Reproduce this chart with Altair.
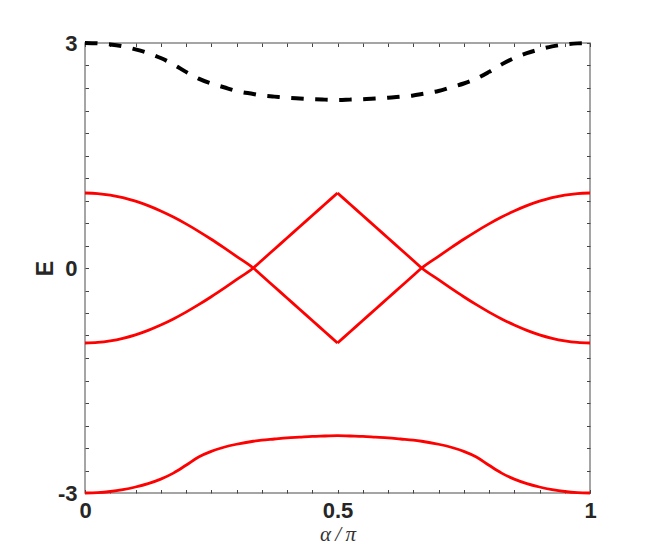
import altair as alt
import pandas as pd

# alpha / pi sample points
alpha = [0, 0.025, 0.05, 0.075, 0.1, 0.125, 0.15, 0.175, 0.2, 0.225, 0.25, 0.275, 0.3, 0.3333,
         0.35, 0.375, 0.4, 0.425, 0.45, 0.475, 0.5, 0.525, 0.55, 0.575, 0.6, 0.625, 0.65, 0.6667,
         0.7, 0.725, 0.75, 0.775, 0.8, 0.825, 0.85, 0.875, 0.9, 0.925, 0.95, 0.975, 1]

# middle band starting at +1
band_a = [1.000, 0.993, 0.972, 0.938, 0.891, 0.831, 0.760, 0.679, 0.588, 0.489, 0.383, 0.271, 0.156, 0.00,
          -0.10, -0.25, -0.40, -0.55, -0.70, -0.85, -1.00, -0.85, -0.70, -0.55, -0.40, -0.25, -0.10, 0.00,
          0.156, 0.271, 0.383, 0.489, 0.588, 0.679, 0.760, 0.831, 0.891, 0.938, 0.972, 0.993, 1.000]

# middle band starting at -1
band_b = [-1.000, -0.993, -0.972, -0.938, -0.891, -0.831, -0.760, -0.679, -0.588, -0.489, -0.383, -0.271, -0.156, 0.00,
          0.10, 0.25, 0.40, 0.55, 0.70, 0.85, 1.00, 0.85, 0.70, 0.55, 0.40, 0.25, 0.10, 0.00,
          -0.156, -0.271, -0.383, -0.489, -0.588, -0.679, -0.760, -0.831, -0.891, -0.938, -0.972, -0.993, -1.000]

# lowest band
band_low = [-3.000, -2.995, -2.980, -2.955, -2.920, -2.875, -2.815, -2.735, -2.630, -2.520, -2.445, -2.390, -2.350, -2.31,
            -2.295, -2.28, -2.265, -2.255, -2.245, -2.24, -2.235, -2.24, -2.245, -2.255, -2.265, -2.28, -2.295, -2.31,
            -2.350, -2.390, -2.445, -2.520, -2.630, -2.735, -2.815, -2.875, -2.920, -2.955, -2.980, -2.995, -3.000]

# highest band (dashed)
band_high = [3.000, 2.995, 2.980, 2.955, 2.915, 2.865, 2.800, 2.715, 2.615, 2.525, 2.460, 2.410, 2.360, 2.32,
             2.30, 2.285, 2.27, 2.26, 2.25, 2.245, 2.24, 2.245, 2.25, 2.26, 2.27, 2.285, 2.30, 2.32,
             2.360, 2.410, 2.460, 2.525, 2.615, 2.715, 2.800, 2.865, 2.915, 2.955, 2.980, 2.995, 3.000]

x_ticks = [0, 0.05, 0.1, 0.15, 0.2, 0.25, 0.3, 0.35, 0.4, 0.45, 0.5,
           0.55, 0.6, 0.65, 0.7, 0.75, 0.8, 0.85, 0.9, 0.95, 1]
y_ticks = [-3, -2.7, -2.4, -2.1, -1.8, -1.5, -1.2, -0.9, -0.6, -0.3, 0,
           0.3, 0.6, 0.9, 1.2, 1.5, 1.8, 2.1, 2.4, 2.7, 3]
x_labels = [0, 0.5, 1]
y_labels = [-3, 0, 3]


def pieces(name, values, split_mid):
    rows = []
    for a, e in zip(alpha, values):
        if split_mid:
            if a <= 0.5:
                rows.append({"alpha": a, "E": e, "seg": name + "1"})
            if a >= 0.5:
                rows.append({"alpha": a, "E": e, "seg": name + "2"})
        else:
            rows.append({"alpha": a, "E": e, "seg": name})
    return rows


red_df = pd.DataFrame(
    pieces("a", band_a, True) + pieces("b", band_b, True) + pieces("low", band_low, False)
)
black_df = pd.DataFrame(pieces("high", band_high, False))

TICK = 3.5
TICK_COLOR = "#444444"
LABEL_FONT = "Liberation Sans"

x_scale = alt.Scale(domain=[0, 1], nice=False, zero=False)
y_scale = alt.Scale(domain=[-3, 3], nice=False, zero=False)


def lab_expr(vals):
    return "indexof(" + str(vals) + ", datum.value) >= 0 ? '' + datum.value : ''"


x_axis_main = alt.Axis(
    orient="bottom", values=x_ticks, labelExpr=lab_expr(x_labels),
    offset=-TICK, tickSize=TICK, tickColor=TICK_COLOR, domain=False, grid=False,
    labelPadding=7, labelFont=LABEL_FONT, labelFontSize=22, labelFontWeight="bold",
    labelColor="#262626", labelOverlap=False, labelFlush=False, labelBound=False,
    title="α\u2009/\u2009π", titleFont="Liberation Serif", titleFontStyle="italic",
    titleFontWeight="normal", titleFontSize=21, titleColor="#333333", titlePadding=2,
)
y_axis_main = alt.Axis(
    orient="left", values=y_ticks, labelExpr=lab_expr(y_labels),
    offset=-TICK, tickSize=TICK, tickColor=TICK_COLOR, domain=False, grid=False,
    labelPadding=8, labelFont=LABEL_FONT, labelFontSize=22, labelFontWeight="bold",
    labelColor="#262626", labelOverlap=False, labelFlush=False, labelBound=False,
    title="E", titleFont=LABEL_FONT, titleFontSize=23, titleFontWeight="bold",
    titleColor="#262626", titlePadding=0,
)
x_axis_top = alt.Axis(
    orient="top", values=x_ticks, labels=False, offset=-TICK, tickSize=TICK,
    tickColor=TICK_COLOR, domain=False, grid=False, title=None,
)
y_axis_right = alt.Axis(
    orient="right", values=y_ticks, labels=False, offset=-TICK, tickSize=TICK,
    tickColor=TICK_COLOR, domain=False, grid=False, title=None,
)

red = alt.Chart(red_df).mark_line(
    color="#ff0000", strokeWidth=2.8, interpolate="monotone"
).encode(
    x=alt.X("alpha:Q", scale=x_scale, axis=x_axis_main),
    y=alt.Y("E:Q", scale=y_scale, axis=y_axis_main),
    detail="seg:N",
    order="alpha:Q",
)

black = alt.Chart(black_df).mark_line(
    color="#000000", strokeWidth=4, strokeDash=[12.5, 11.5], strokeCap="butt",
    interpolate="monotone",
).encode(
    x=alt.X("alpha:Q", scale=x_scale, axis=x_axis_top),
    y=alt.Y("E:Q", scale=y_scale, axis=y_axis_right),
    order="alpha:Q",
)

chart = alt.layer(red, black).resolve_axis(
    x="independent", y="independent"
).properties(
    width=505, height=450,
    autosize=alt.AutoSizeParams(type="none"),
    padding={"left": 77, "top": 35, "right": 40, "bottom": 58},
).configure(
    background="white"
).configure_view(
    stroke="#888888", strokeWidth=1.5
)

chart.save("out.html", embed_options={"renderer": "svg", "actions": False})
